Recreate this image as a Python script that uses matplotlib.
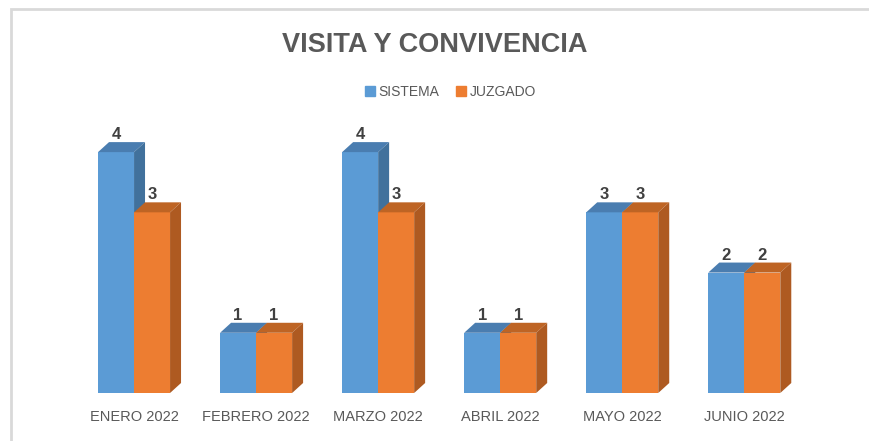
import matplotlib.pyplot as plt
from matplotlib.patches import Polygon, Rectangle

# Datos
meses = ['ENERO 2022', 'FEBRERO 2022', 'MARZO 2022', 'ABRIL 2022', 'MAYO 2022', 'JUNIO 2022']
sistema = [4, 1, 4, 1, 3, 2]
juzgado = [3, 1, 3, 1, 3, 2]

plt.rcParams['font.family'] = ['Liberation Sans', 'DejaVu Sans']

gris = '#595959'
ancho = 0.295
dx, dy = 0.09, 0.166  # profundidad del efecto 3D

fig = plt.figure(figsize=(8.7, 4.41), dpi=100)
ax = fig.add_axes([12 / 870, 48 / 441, 1 - 12 / 870, 271 / 441])


def barra_3d(x0, h, frente, lado, tapa):
    ax.bar(x0, h, width=ancho, align='edge', color=frente, zorder=2)
    x1 = x0 + ancho
    ax.add_patch(Polygon([(x0, h), (x1, h), (x1 + dx, h + dy), (x0 + dx, h + dy)],
                         closed=True, facecolor=tapa, edgecolor='none', zorder=2))
    ax.add_patch(Polygon([(x1, 0), (x1 + dx, dy), (x1 + dx, h + dy), (x1, h)],
                         closed=True, facecolor=lado, edgecolor='none', zorder=2))
    ax.text(x0 + ancho / 2, h + dy, str(h), ha='center', va='bottom', fontsize=12,
            fontweight='bold', color='#404040', zorder=3)


for i in range(len(meses)):
    barra_3d(i - ancho, sistema[i], '#5B9BD5', '#41719C', '#4A7DB0')
    barra_3d(i, juzgado[i], '#ED7D31', '#AE5A21', '#BE6424')

ax.set_xlim(-1.0, 6.03)
ax.set_ylim(0, 4.5)
ax.set_xticks(range(len(meses)))
ax.set_xticklabels(meses, fontsize=10.5, color=gris)
ax.tick_params(axis='x', length=0, pad=12)
ax.set_yticks([])
for s in ax.spines.values():
    s.set_visible(False)

fig.text(0.5, 1 - 45 / 441, 'VISITA Y CONVIVENCIA', ha='center', va='center',
         fontsize=19.5, fontweight='bold', color=gris)

h1 = Rectangle((0, 0), 1, 1, color='#5B9BD5')
h2 = Rectangle((0, 0), 1, 1, color='#ED7D31')
fig.legend([h1, h2], ['SISTEMA', 'JUZGADO'], loc='center', bbox_to_anchor=(0.518, 1 - 92 / 441),
           ncol=2, frameon=False, fontsize=10, labelcolor=gris, handlelength=0.7,
           handleheight=0.7, handletextpad=0.3, columnspacing=1.2)

# marco del gráfico
fig.add_artist(Rectangle((11 / 870, -0.1), 1.2, 1 - 9 / 441 + 0.1, transform=fig.transFigure,
                         fill=False, edgecolor='#D9D9D9', linewidth=2))

plt.savefig('out.png', dpi=100)
